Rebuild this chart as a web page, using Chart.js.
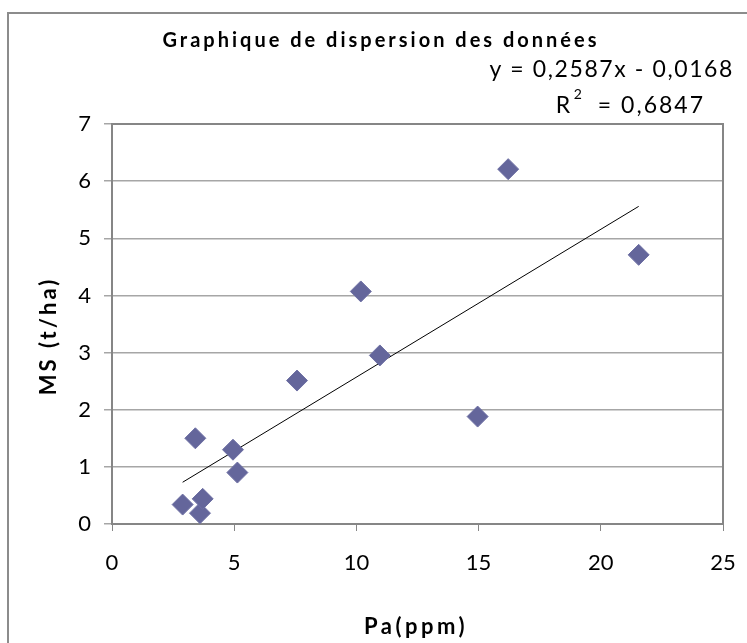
<!DOCTYPE html>
<html>
<head>
<meta charset="utf-8">
<title>Graphique de dispersion des données</title>
<script src="https://cdn.jsdelivr.net/npm/chart.js@4/dist/chart.umd.min.js"></script>
<style>
    html, body { margin: 0; padding: 0; background: #fff; overflow: hidden; }
    .chart-wrapper { position: relative; width: 747px; height: 643px; }
</style>
</head>
<body>
<div class="chart-wrapper">
    <canvas id="scatter" width="747" height="643"></canvas>
</div>
<script>
// Pa (ppm) vs MS (t/ha) measurements
const paPpm = [2.89, 3.60, 3.71, 3.41, 4.95, 5.13, 7.57, 10.18, 10.96, 16.21, 14.96, 21.55];
const msTha = [0.34, 0.19, 0.44, 1.50, 1.30, 0.90, 2.51, 4.07, 2.95, 6.21, 1.88, 4.71];

// Linear trend as reported on the chart
const slope = 0.2587;
const intercept = -0.0168;
const rSquared = 0.6847;

const xTicks = [0, 5, 10, 15, 20, 25];
const yTicks = [0, 1, 2, 3, 4, 5, 6, 7];

const FONT = 'Lato, "Open Sans", sans-serif';
const AXIS_GREY = '#868686';
const GRID_GREY = '#a6a6a6';

const points = paPpm.map((x, i) => ({ x: x, y: msTha[i] }));
const xMin = Math.min(...paPpm);
const xMax = Math.max(...paPpm);
const trend = [
    { x: xMin, y: slope * xMin + intercept },
    { x: xMax, y: slope * xMax + intercept }
];

const fmt = v => v.toFixed(4).replace('.', ',');

// Frame, plot border, title, trend equation and axis titles
const decorations = {
    id: 'decorations',
    beforeDraw(chart) {
        const ctx = chart.ctx;
        ctx.save();
        ctx.strokeStyle = '#8c8c8c';
        ctx.lineWidth = 2;
        ctx.strokeRect(8, 13, 900, 900);
        ctx.restore();
    },
    afterDatasetsDraw(chart) {
        const { ctx, chartArea: a } = chart;
        ctx.save();
        ctx.strokeStyle = AXIS_GREY;
        ctx.lineWidth = 2;
        ctx.beginPath();
        ctx.moveTo(a.left, a.top);
        ctx.lineTo(a.right, a.top);
        ctx.lineTo(a.right, a.bottom);
        ctx.stroke();

        ctx.fillStyle = '#000';
        ctx.textBaseline = 'alphabetic';

        ctx.font = 'bold 20px ' + FONT;
        ctx.letterSpacing = '3px';
        ctx.textAlign = 'center';
        ctx.fillText('Graphique de dispersion des données', 381, 47);

        // trendline label
        ctx.font = '23px ' + FONT;
        ctx.letterSpacing = '1.6px';
        ctx.textAlign = 'right';
        const sign = intercept < 0 ? ' - ' : ' + ';
        ctx.fillText('y = ' + fmt(slope) + 'x' + sign + fmt(Math.abs(intercept)), 734, 77);

        ctx.letterSpacing = '2px';
        const rest = '= ' + fmt(rSquared);
        const restLeft = 705 - ctx.measureText(rest).width;
        ctx.fillText(rest, 705, 113);
        ctx.textAlign = 'left';
        ctx.fillText('R', restLeft - 42, 113);
        ctx.font = '14px ' + FONT;
        ctx.fillText('2', restLeft - 24, 99);

        ctx.font = 'bold 22px ' + FONT;
        ctx.letterSpacing = '3.5px';
        ctx.textAlign = 'center';
        ctx.fillText('Pa(ppm)', 416, 634);

        ctx.translate(56, 336);
        ctx.rotate(-Math.PI / 2);
        ctx.letterSpacing = '3px';
        ctx.fillText('MS (t/ha)', 0, 0);
        ctx.restore();
    }
};

new Chart(document.getElementById('scatter'), {
    type: 'scatter',
    data: {
        datasets: [
            {
                label: 'MS',
                data: points,
                pointStyle: 'rectRot',
                pointRadius: 10.5,
                pointHoverRadius: 10.5,
                backgroundColor: '#64669b',
                borderColor: '#6e70a4',
                borderWidth: 1
            },
            {
                label: 'Tendance',
                type: 'line',
                data: trend,
                borderColor: '#000',
                borderWidth: 1,
                pointRadius: 0,
                fill: false
            }
        ]
    },
    options: {
        responsive: false,
        animation: false,
        events: [],
        layout: { padding: { left: 0, top: 124, right: 24, bottom: 0 } },
        plugins: {
            legend: { display: false },
            title: { display: false },
            tooltip: { enabled: false }
        },
        scales: {
            x: {
                type: 'linear',
                min: 0,
                max: 25,
                afterFit: s => { s.height = 119; s.paddingLeft = 0; s.paddingRight = 0; },
                afterBuildTicks: s => { s.ticks = xTicks.map(v => ({ value: v })); },
                grid: { drawOnChartArea: false, drawTicks: true, tickLength: 7, color: AXIS_GREY, lineWidth: 1 },
                border: { display: true, color: AXIS_GREY, width: 2 },
                ticks: { color: '#000', font: { family: FONT, size: 22 }, padding: 19, maxRotation: 0 }
            },
            y: {
                type: 'linear',
                min: 0,
                max: 7,
                afterFit: s => { s.width = 112; s.paddingTop = 0; s.paddingBottom = 0; },
                afterBuildTicks: s => { s.ticks = yTicks.map(v => ({ value: v })); },
                grid: { drawOnChartArea: true, drawTicks: true, tickLength: 8, color: GRID_GREY, lineWidth: 1.5 },
                border: { display: true, color: AXIS_GREY, width: 2 },
                ticks: { color: '#000', font: { family: FONT, size: 22 }, padding: 13 }
            }
        }
    },
    plugins: [decorations]
});
</script>
</body>
</html>
